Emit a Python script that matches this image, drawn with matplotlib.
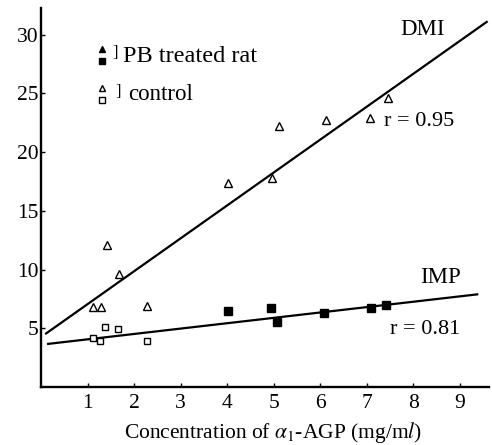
import matplotlib
matplotlib.use("Agg")
import matplotlib.pyplot as plt
import numpy as np

plt.rcParams["font.family"] = ["Liberation Serif", "DejaVu Serif"]
plt.rcParams["mathtext.fontset"] = "stix"

# DMI: control rats (open triangles) and PB treated rats
dmi_ctrl_x = [1.12, 1.29, 1.42, 1.68, 2.28]
dmi_ctrl_y = [6.8, 6.8, 12.1, 9.6, 6.9]
dmi_pb_x = [4.02, 4.97, 5.12, 6.13, 7.07, 7.46]
dmi_pb_y = [17.4, 17.8, 22.2, 22.7, 22.9, 24.6]

# IMP: control rats (open squares) and PB treated rats (filled squares)
imp_ctrl_x = [1.12, 1.27, 1.38, 1.66, 2.28]
imp_ctrl_y = [4.2, 3.9, 5.1, 4.9, 3.9]
imp_pb_x = [4.02, 4.95, 5.07, 6.09, 7.10, 7.42]
imp_pb_y = [6.5, 6.7, 5.5, 6.3, 6.7, 7.0]

# Regression lines (intercept, slope) and their x extents
dmi_fit = (4.25, 2.80)
imp_fit = (3.60, 0.457)
dmi_span = (0.09, 9.6)
imp_span = (0.13, 9.4)

x_ticks = [1, 2, 3, 4, 5, 6, 7, 8, 9]
y_ticks = [5, 10, 15, 20, 25, 30]

fig = plt.figure(figsize=(4.92, 4.45), dpi=100)
ax = fig.add_axes([41 / 492, 58 / 445, 448 / 492, 379 / 445])
ax.set_xlim(0, 9.63)
ax.set_ylim(0, 32.26)

for sp in ("top", "right"):
    ax.spines[sp].set_visible(False)
for sp in ("left", "bottom"):
    ax.spines[sp].set_linewidth(1.7)
    ax.spines[sp].set_color("black")

ax.set_xticks(x_ticks)
ax.set_yticks(y_ticks)
ax.tick_params(axis="both", direction="in", length=3, width=1.0,
               labelsize=15.5, colors="black")
ax.tick_params(axis="x", pad=5)
ax.tick_params(axis="y", pad=2)

# fitted lines
for (b, m), (x0, x1) in ((dmi_fit, dmi_span), (imp_fit, imp_span)):
    xs = np.array([x0, x1])
    ax.plot(xs, b + m * xs, color="black", lw=1.6, solid_capstyle="butt")

tri_kw = dict(marker="^", ms=5.5, mfc="white", mec="black", mew=1.0,
              ls="none")
ax.plot(dmi_ctrl_x, dmi_ctrl_y, **tri_kw)
ax.plot(dmi_pb_x, dmi_pb_y, **tri_kw)
ax.plot(imp_ctrl_x, imp_ctrl_y, marker="s", ms=5, mfc="white", mec="black",
        mew=1.0, ls="none")
ax.plot(imp_pb_x, imp_pb_y, marker="s", ms=5.5, mfc="black", mec="black",
        ls="none")

# line labels
ax.text(7.72, 30.4, "DMI", fontsize=16.5, ha="left", va="center")
ax.text(7.38, 22.6, "r = 0.95", fontsize=16, ha="left", va="center")
ax.text(8.15, 9.3, "IMP", fontsize=16.5, ha="left", va="center")
ax.text(7.5, 4.9, "r = 0.81", fontsize=16, ha="left", va="center")

# legend key
def ax_xy(px, py):
    return (px - 41) / 448, (387 - py) / 379

tr = ax.transAxes
for (px, py), mk, fill in (((102, 49), "^", "black"), ((102, 61), "s", "black"),
                           ((102, 88), "^", "white"), ((102, 100), "s", "white")):
    x, y = ax_xy(px, py)
    ax.plot([x], [y], marker=mk, ms=5, mfc=fill, mec="black", mew=1.0,
            transform=tr, clip_on=False)
for px, py in ((115, 53), (118, 92)):
    x, y = ax_xy(px, py)
    ax.text(x, y, "]", fontsize=12, ha="center", va="center", transform=tr)
x, y = ax_xy(123, 57)
ax.text(x, y, "PB treated rat", fontsize=17.5, ha="left", va="center", transform=tr)
x, y = ax_xy(128, 94)
ax.text(x, y, "control", fontsize=16.5, ha="left", va="center", transform=tr)

ax.set_xlabel(r"Concentration of $\alpha_1$-AGP (mg/m$l$)", fontsize=15.5)
ax.xaxis.set_label_coords(0.518, -0.087)

fig.savefig("out.png", dpi=100)
